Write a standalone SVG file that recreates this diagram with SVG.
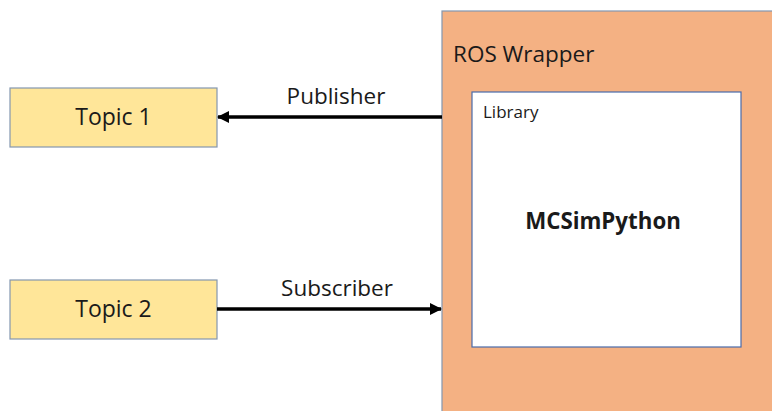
<svg xmlns="http://www.w3.org/2000/svg" width="772" height="411" viewBox="0 0 772 411">
<defs>
<marker id="ah" markerWidth="12" markerHeight="12" refX="11" refY="6" orient="auto" markerUnits="userSpaceOnUse">
<path d="M0,0 L12,6 L0,12 Z" fill="#000"/>
</marker>
<style>
.topic{fill:#FFE699;stroke:#8497B0;stroke-width:1.2}
.t{font-family:"Open Sans","Liberation Sans",sans-serif;fill:#1a1a1a}
.conn{stroke:#000;stroke-width:3.5;fill:none}
</style>
</defs>
<rect width="772" height="411" fill="#fff"/>
<g id="ros-wrapper">
<rect x="442" y="11" width="340" height="410" fill="#F4B183" stroke="#8497B0" stroke-width="1.2"/>
<text class="t" x="453" y="62" font-size="22.5">ROS Wrapper</text>
</g>
<g id="library">
<rect x="472" y="92" width="269" height="255" fill="#fff" stroke="#4A6BAA" stroke-width="1.2"/>
<text class="t" x="483" y="118" font-size="17">Library</text>
<text class="t" x="603" y="229" font-size="22.3" font-weight="bold" text-anchor="middle">MCSimPython</text>
</g>
<g id="topic1">
<rect class="topic" x="10" y="88" width="207" height="59"/>
<text class="t" x="113.5" y="125" font-size="23" text-anchor="middle">Topic 1</text>
</g>
<g id="topic2">
<rect class="topic" x="10" y="280" width="207" height="59"/>
<text class="t" x="113.5" y="317" font-size="23" text-anchor="middle">Topic 2</text>
</g>
<g id="connectors">
<line class="conn" x1="442" y1="117" x2="218" y2="117" marker-end="url(#ah)"/>
<text class="t" x="336" y="104" font-size="22.5" text-anchor="middle">Publisher</text>
<line class="conn" x1="217" y1="309" x2="441" y2="309" marker-end="url(#ah)"/>
<text class="t" x="337" y="296" font-size="22.5" text-anchor="middle">Subscriber</text>
</g>
</svg>
